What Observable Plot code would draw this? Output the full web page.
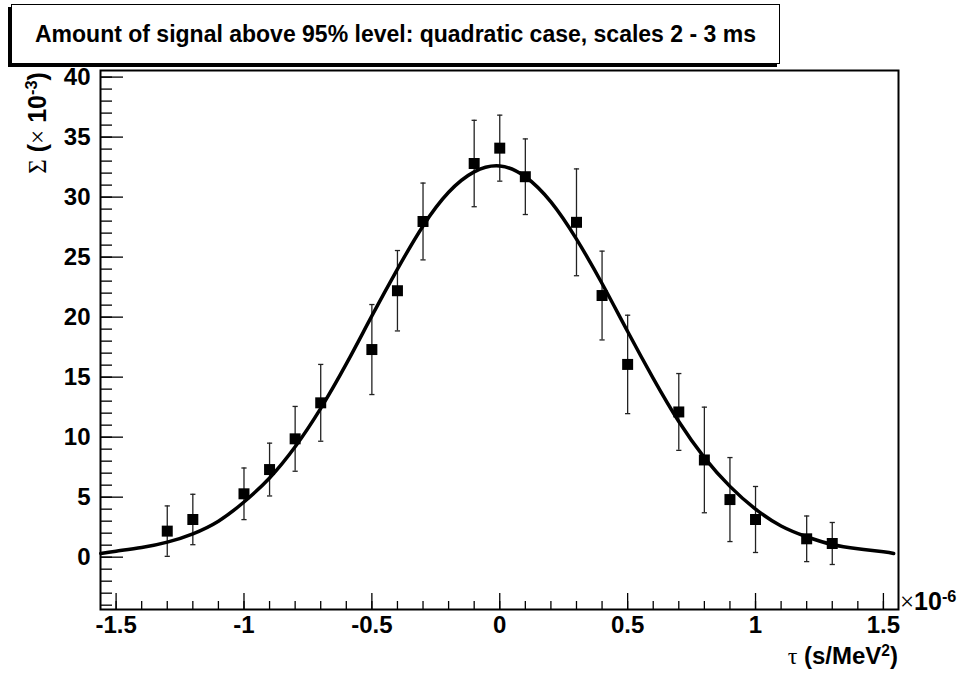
<!DOCTYPE html>
<html><head><meta charset="utf-8">
<script src="https://cdn.jsdelivr.net/npm/d3@7"></script>
<script src="https://cdn.jsdelivr.net/npm/@observablehq/plot@0.6"></script>
<style>
body{margin:0;background:#fff;}
#wrap{position:relative;width:964px;height:675px;font-family:"Liberation Sans",Arial,sans-serif;overflow:hidden;}
#chart svg{display:block;}
#title{position:absolute;left:11px;top:4px;width:769px;height:60px;border:1px solid #000;box-shadow:-3px 3px 0 #000;background:#fff;font-weight:bold;font-size:23px;line-height:58px;padding-left:23px;box-sizing:border-box;white-space:nowrap;}
.lab{position:absolute;font-weight:bold;white-space:nowrap;line-height:1;}
.sym{font-family:"Liberation Serif","DejaVu Serif",serif;font-weight:normal;}
sup{font-size:0.65em;vertical-align:0.5em;line-height:0;}
</style></head><body>
<div id="wrap"><div id="chart"></div>
<div id="title">Amount of signal above 95% level: quadratic case, scales 2 - 3 ms</div>
<div class="lab" id="xt" style="right:66px;top:644px;font-size:24px;"><span class="sym">τ</span> (s/MeV<sup>2</sup>)</div>
<div class="lab" id="xm" style="left:900px;top:589px;font-size:25px;"><span class="sym">×</span>10<sup>-6</sup></div>
<div class="lab" id="yt" style="left:37px;top:123px;font-size:25px;transform:translate(-50%,-50%) rotate(-90deg);"><span class="sym">Σ</span> (<span class="sym">×</span> 10<sup>-3</sup>)</div>
</div>
<script>
// measured points
const tau   = [-1.3, -1.2, -1.0, -0.9, -0.8, -0.7, -0.5, -0.4, -0.3, -0.1, 0.0, 0.1, 0.3, 0.4, 0.5, 0.7, 0.8, 0.9, 1.0, 1.2, 1.3];
const sigma = [2.17, 3.14, 5.28, 7.3, 9.86, 12.86, 17.3, 22.2, 27.97, 32.8, 34.08, 31.7, 27.9, 21.8, 16.06, 12.1, 8.1, 4.8, 3.14, 1.53, 1.14];
const err   = [2.1, 2.1, 2.15, 2.2, 2.7, 3.2, 3.75, 3.35, 3.2, 3.6, 2.75, 3.15, 4.45, 3.7, 4.1, 3.2, 4.4, 3.5, 2.75, 1.9, 1.75];
// fitted curve
const fitTau   = [-1.56, -1.5, -1.4, -1.3, -1.2, -1.1, -1.0, -0.9, -0.8, -0.7, -0.6, -0.5, -0.4, -0.3, -0.2, -0.1, 0.0, 0.1, 0.2, 0.3, 0.4, 0.5, 0.6, 0.7, 0.8, 0.9, 1.0, 1.1, 1.2, 1.3, 1.4, 1.5, 1.54];
const fitSigma = [0.3, 0.5, 0.8, 1.25, 1.95, 3.0, 4.6, 6.6, 9.2, 12.4, 16.1, 20.1, 24.0, 27.6, 30.4, 32.1, 32.6, 31.7, 29.6, 26.5, 22.8, 18.8, 14.9, 11.3, 8.3, 5.9, 4.0, 2.6, 1.7, 1.05, 0.7, 0.45, 0.3];
// axes
const xMajor = [-1.5, -1, -0.5, 0, 0.5, 1, 1.5];
const yMajor = [0, 5, 10, 15, 20, 25, 30, 35, 40];
const xMinor = d3.range(-15, 16).map(i => i / 10);
const yMinor = d3.range(-4, 41);
const xDomain = [-1.561, 1.559];
const yDomain = [-4.36, 40.55];

const data = tau.map((t, i) => ({t, s: sigma[i], e: err[i]}));
const fit = fitTau.map((t, i) => ({t, s: fitSigma[i]}));
const cap = {draw(ctx) { ctx.moveTo(-2.6, 0); ctx.lineTo(2.6, 0); }};
const font = {fontSize: 24, fontWeight: "bold", fontFamily: "Liberation Sans, Arial, sans-serif"};

const chart = Plot.plot({
  width: 964, height: 675,
  marginLeft: 100, marginRight: 66, marginTop: 70, marginBottom: 66,
  x: {domain: xDomain}, y: {domain: yDomain},
  style: {background: "#fff", color: "#000"},
  marks: [
    Plot.axisX({ticks: xMinor, tickSize: -8, tickFormat: () => "", label: null, strokeWidth: 1.3}),
    Plot.axisX({ticks: xMajor, tickSize: -16, tickFormat: () => "", label: null, strokeWidth: 1.3}),
    Plot.axisX({ticks: xMajor, tickSize: 0, tickPadding: 6, tickFormat: d => String(d), label: null, ...font}),
    Plot.axisY({ticks: yMinor, tickSize: -12, tickFormat: () => "", label: null, strokeWidth: 1.3}),
    Plot.axisY({ticks: yMajor, tickSize: -23, tickFormat: () => "", label: null, strokeWidth: 1.3}),
    Plot.axisY({ticks: yMajor, tickSize: 0, tickPadding: 10, tickFormat: d => String(d), label: null, ...font}),
    Plot.frame({stroke: "#000", strokeWidth: 2}),
    Plot.ruleX(data, {x: "t", y1: d => d.s - d.e, y2: d => d.s + d.e, stroke: "#222", strokeWidth: 1.3}),
    Plot.dot(data, {x: "t", y: d => d.s + d.e, symbol: cap, fill: "none", stroke: "#222", strokeWidth: 1.3}),
    Plot.dot(data, {x: "t", y: d => d.s - d.e, symbol: cap, fill: "none", stroke: "#222", strokeWidth: 1.3}),
    Plot.line(fit, {x: "t", y: "s", curve: "natural", stroke: "#000", strokeWidth: 3.5}),
    Plot.dot(data, {x: "t", y: "s", symbol: "square", r: 6.2, fill: "#000", stroke: "none"})
  ]
});
document.getElementById("chart").appendChild(chart);
</script>
</body></html>
